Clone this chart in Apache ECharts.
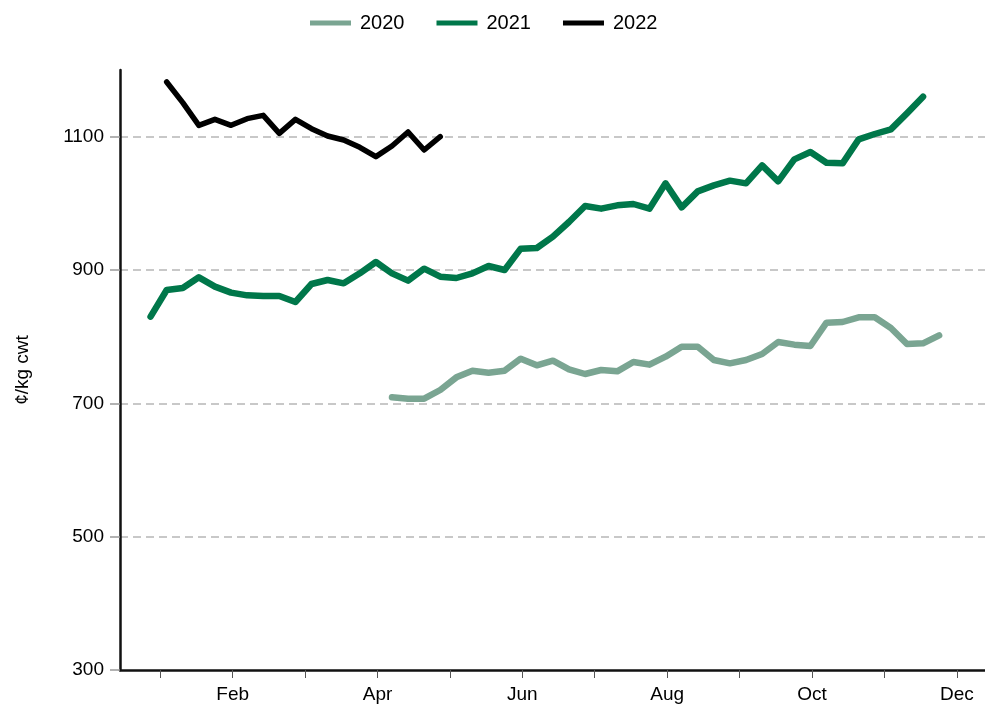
<!DOCTYPE html>
<html>
<head>
    <meta charset="utf-8">
    <title>¢/kg cwt</title>
    <script src="https://cdn.jsdelivr.net/npm/echarts@6/dist/echarts.min.js"></script>
    <style>
        html, body { margin: 0; padding: 0; background: #fff; }
        #chart { width: 985px; height: 710px; }
    </style>
</head>
<body>
<div id="chart"></div>
<script type="text/javascript">
    // x position is the week of the year; month marks sit every 4.5 weeks
    var monthNames = ['Jan', 'Feb', 'Mar', 'Apr', 'May', 'Jun', 'Jul', 'Aug', 'Sep', 'Oct', 'Nov', 'Dec'];
    var monthWeeks = [1.6, 6.1, 10.6, 15.1, 19.6, 24.1, 28.6, 33.1, 37.6, 42.1, 46.6, 51.1];
    var yTicks = [300, 500, 700, 900, 1100];

    var start2020 = 16;
    var values2020 = [709, 707, 707, 720, 739, 749, 746, 749, 767, 757, 764, 751, 744, 750, 748, 762,
        758, 770, 785, 785, 765, 760, 765, 774, 792, 788, 786, 821, 822, 829, 829, 813, 789, 790, 802];

    var start2021 = 1;
    var values2021 = [830, 870, 873, 889, 875, 866, 862, 861, 861, 852, 879, 885, 880, 895, 912, 895,
        884, 902, 890, 888, 895, 906, 900, 932, 933, 950, 972, 996, 992, 997, 999, 992, 1030, 994,
        1018, 1027, 1034, 1030, 1057, 1033, 1066, 1077, 1061, 1060, 1096, 1104, 1111, 1135, 1160];

    var start2022 = 2;
    var values2022 = [1182, 1151, 1117, 1126, 1117, 1127, 1132, 1105, 1126, 1112, 1101, 1095, 1084,
        1070, 1086, 1107, 1080, 1100];

    function toPairs(startWeek, values) {
        return values.map(function (v, i) { return [startWeek + i, v]; });
    }

    var labelWeeks = monthWeeks.filter(function (w, i) { return i % 2 === 1; });

    var myChart = echarts.init(document.getElementById('chart'));
    var lineCommon = { cap: 'round', join: 'round' };

    myChart.setOption({
        animation: false,
        textStyle: { fontFamily: 'Liberation Sans, Arial, sans-serif' },
        legend: {
            top: 8,
            left: 305,
            itemWidth: 41,
            itemHeight: 5,
            itemGap: 32,
            icon: 'rect',
            textStyle: { fontSize: 20, color: '#000', padding: [0, 0, 0, 4] },
            data: ['2020', '2021', '2022']
        },
        grid: { left: 120, right: 0, top: 70, bottom: 40 },
        xAxis: {
            type: 'value',
            min: -0.9,
            max: 52.85,
            splitLine: { show: false },
            axisLine: { lineStyle: { color: '#111', width: 2.5 } },
            axisTick: {
                customValues: monthWeeks,
                length: 8,
                lineStyle: { color: '#555', width: 1 }
            },
            axisLabel: {
                customValues: labelWeeks,
                margin: 15,
                fontSize: 19,
                color: '#000',
                formatter: function (v) {
                    var best = 0;
                    for (var i = 1; i < monthWeeks.length; i++) {
                        if (Math.abs(monthWeeks[i] - v) < Math.abs(monthWeeks[best] - v)) best = i;
                    }
                    return monthNames[best];
                }
            }
        },
        yAxis: {
            type: 'value',
            min: 300,
            max: 1200,
            interval: 200,
            name: '¢/kg cwt',
            nameLocation: 'middle',
            nameGap: 88,
            nameTextStyle: { fontSize: 19, color: '#000' },
            axisLine: { show: true, onZero: false, lineStyle: { color: '#111', width: 2.5 } },
            axisTick: {
                customValues: yTicks,
                length: 10,
                lineStyle: { color: '#999', width: 1.5 }
            },
            axisLabel: {
                customValues: yTicks,
                margin: 16,
                fontSize: 19,
                color: '#000',
                formatter: function (v) { return String(v); }
            },
            splitLine: {
                show: true,
                showMinLine: false,
                lineStyle: { color: '#c8c8c8', width: 2, type: [8, 5] }
            }
        },
        series: [
            {
                name: '2020',
                type: 'line',
                showSymbol: false,
                color: '#7aa592',
                lineStyle: Object.assign({ width: 6.5 }, lineCommon),
                data: toPairs(start2020, values2020)
            },
            {
                name: '2021',
                type: 'line',
                showSymbol: false,
                color: '#00774a',
                lineStyle: Object.assign({ width: 6.5 }, lineCommon),
                data: toPairs(start2021, values2021)
            },
            {
                name: '2022',
                type: 'line',
                showSymbol: false,
                color: '#000000',
                lineStyle: Object.assign({ width: 5.5 }, lineCommon),
                data: toPairs(start2022, values2022)
            }
        ]
    });
</script>
</body>
</html>
